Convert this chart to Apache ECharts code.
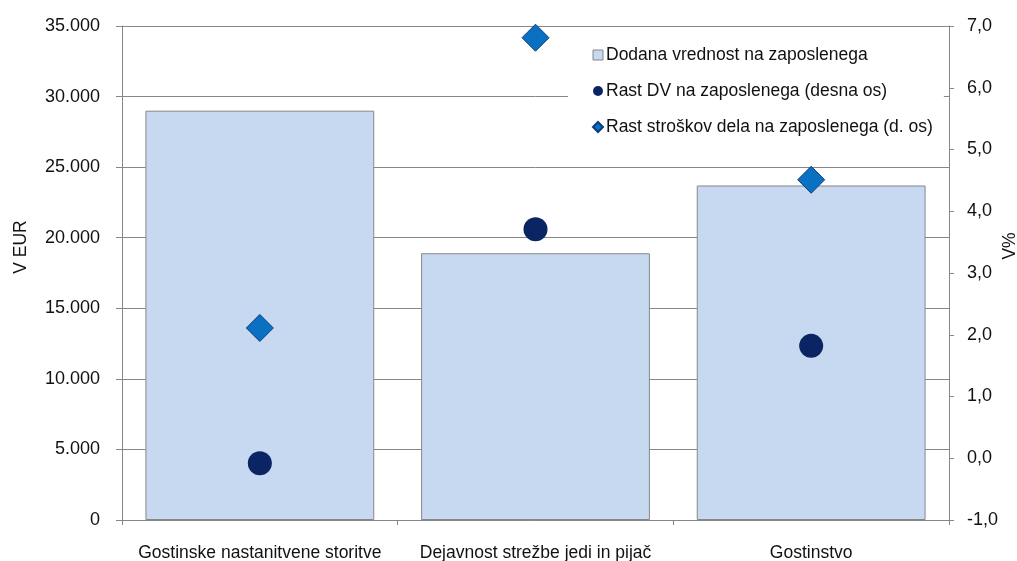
<!DOCTYPE html>
<html>
<head>
<meta charset="utf-8">
<script src="https://cdn.jsdelivr.net/npm/echarts@6/dist/echarts.min.js"></script>
<style>
html,body{margin:0;padding:0;background:#fff;}
#chart{width:1017px;height:561px;}
</style>
</head>
<body>
<div id="chart"></div>
<script>
const categories = ['Gostinske nastanitvene storitve', 'Dejavnost strežbe jedi in pijač', 'Gostinstvo'];
const addedValue = [29000, 18900, 23700];
const growthAddedValue = [-0.08, 3.71, 1.82];
const growthLabourCost = [2.11, 6.81, 4.51];
const seriesNames = ['Dodana vrednost na zaposlenega', 'Rast DV na zaposlenega (desna os)', 'Rast stroškov dela na zaposlenega (d. os)'];

const FONT = 'Liberation Sans, Arial, sans-serif';
const GREY = '#878787';

const chart = echarts.init(document.getElementById('chart'), null, {renderer: 'canvas'});
chart.setOption({
  animation: false,
  backgroundColor: '#fff',
  textStyle: {fontFamily: FONT},
  grid: {left: 122, right: 68, top: 26, bottom: 41, containLabel: false, outerBoundsMode: 'none'},
  legend: {
    orient: 'vertical',
    left: 568,
    top: 32,
    padding: [14, 11, 14, 24],
    itemGap: 18,
    itemWidth: 10,
    itemHeight: 10,
    backgroundColor: '#fff',
    textStyle: {fontFamily: FONT, fontSize: 17.5, color: '#111', padding: [0, 0, 0, -2]},
    data: [
      {name: seriesNames[0], icon: 'rect', itemStyle: {color: '#c6d9f1', borderColor: GREY, borderWidth: 1}},
      {name: seriesNames[1], icon: 'circle'},
      {name: seriesNames[2], icon: 'diamond'}
    ]
  },
  xAxis: {
    type: 'category',
    data: categories,
    axisLine: {lineStyle: {color: GREY, width: 1}},
    axisTick: {show: true, alignWithLabel: false, length: 5, lineStyle: {color: GREY}},
    axisLabel: {fontFamily: FONT, fontSize: 17.5, color: '#111', margin: 24, interval: 0, hideOverlap: false}
  },
  yAxis: [
    {
      type: 'value', min: 0, max: 35000, interval: 5000,
      name: 'V EUR', nameLocation: 'middle', nameRotate: 90, nameGap: 92, nameMoveOverlap: false,
      nameTextStyle: {fontFamily: FONT, fontSize: 17.5, color: '#111', padding: [0, 0, 0, 52]},
      axisLine: {show: true, lineStyle: {color: GREY}},
      axisTick: {show: true, length: 6, lineStyle: {color: GREY}},
      splitLine: {show: true, lineStyle: {color: GREY, width: 1}},
      axisLabel: {
        fontFamily: FONT, fontSize: 18, color: '#111', margin: 22,
        formatter: v => v === 0 ? '0' : v.toString().replace(/\B(?=(\d{3})+(?!\d))/g, '.')
      }
    },
    {
      type: 'value', min: -1, max: 7, interval: 1, position: 'right',
      name: 'V%', nameLocation: 'middle', nameRotate: 90, nameGap: 52, nameMoveOverlap: false,
      nameTextStyle: {fontFamily: FONT, fontSize: 17.5, color: '#111', padding: [0, 0, 0, 54]},
      axisLine: {show: true, lineStyle: {color: GREY}},
      axisTick: {show: true, length: 5, lineStyle: {color: GREY}},
      splitLine: {show: false},
      axisLabel: {
        fontFamily: FONT, fontSize: 18, color: '#111', margin: 18,
        formatter: v => v.toFixed(1).replace('.', ',')
      }
    }
  ],
  series: [
    {
      name: seriesNames[0], type: 'bar', yAxisIndex: 0, data: addedValue,
      barCategoryGap: '17%',
      itemStyle: {color: '#c6d9f1', borderColor: GREY, borderWidth: 1}
    },
    {
      name: seriesNames[1], type: 'scatter', yAxisIndex: 1, data: growthAddedValue,
      symbol: 'circle', symbolSize: 24, z: 5,
      itemStyle: {color: '#0b2464', opacity: 1}
    },
    {
      name: seriesNames[2], type: 'scatter', yAxisIndex: 1, data: growthLabourCost,
      symbol: 'diamond', symbolSize: 27, z: 5,
      itemStyle: {color: '#0a70c2', borderColor: '#0d3b7a', borderWidth: 1, opacity: 1}
    }
  ]
});
</script>
</body>
</html>
